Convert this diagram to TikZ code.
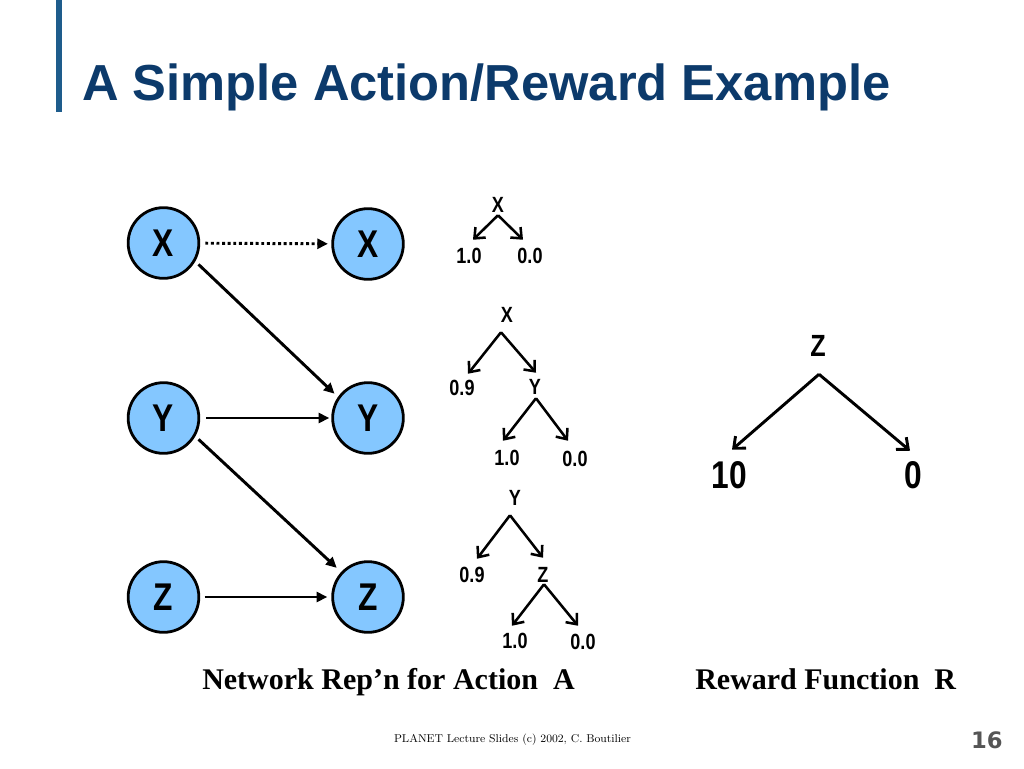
\documentclass[tikz,border=0pt]{standalone}
\usepackage{fontspec}
\usetikzlibrary{arrows.meta,calc}
\newfontfamily\sansf{Liberation Sans}
\newfontfamily\narrowf{Liberation Sans}[FakeStretch=0.82]
\newfontfamily\timesf{Liberation Serif}
\newfontfamily\dejaf{DejaVu Sans}
\definecolor{titleblue}{RGB}{12,58,107}
\definecolor{barblue}{RGB}{30,92,140}
\definecolor{nodeblue}{RGB}{132,199,255}
\definecolor{pagegray}{RGB}{85,85,85}
\tikzset{
  varnode/.style={circle,draw=black,line width=2.1pt,fill=nodeblue,minimum size=53pt,inner sep=0pt,
    font=\narrowf\bfseries\fontsize{29}{29}\selectfont},
  netarrow/.style={line width=2.2pt,-{Triangle[length=8pt,width=7.5pt]}},
  dotarrow/.style={netarrow,dash pattern=on 2.2pt off 2pt},
  small/.style={anchor=base,inner sep=0pt,text height=11.25pt,text depth=0pt,
    font=\narrowf\bfseries\fontsize{16.5}{16.5}\selectfont},
  rwz/.style={anchor=base,inner sep=0pt,text height=15pt,text depth=0pt,
    font=\narrowf\bfseries\fontsize{23}{23}\selectfont},
  rwv/.style={anchor=base,inner sep=0pt,text height=20.25pt,text depth=0pt,
    font=\narrowf\bfseries\fontsize{29}{29}\selectfont},
  treearrow/.style={line width=1.9pt,-{Straight Barb[length=6.5pt,width=11pt]}},
  rewardarrow/.style={line width=2.2pt,-{Straight Barb[length=7pt,width=12pt]}},
  caption/.style={anchor=base west,inner sep=0pt,font=\timesf\bfseries\fontsize{22.5}{22.5}\selectfont},
}
\begin{document}
\begin{tikzpicture}[x=0.75pt,y=-0.75pt]
\useasboundingbox (0,0) rectangle (1024,768);
\fill[white] (0,0) rectangle (1024,768);
% title
\fill[barblue] (56,0) rectangle (62,112);
\node[anchor=base west,inner sep=0pt,text=titleblue,font=\sansf\bfseries\fontsize{38}{38}\selectfont] (title) at (82,100) {A Simple Action/Reward Example};
% network nodes
\node[varnode] (lx) at (163.5,243) {X};
\node[varnode] (rx) at (368,244) {X};
\node[varnode] (ly) at (163.5,418) {Y};
\node[varnode] (ry) at (368,418) {Y};
\node[varnode] (lz) at (163.5,597) {Z};
\node[varnode] (rz) at (368,597) {Z};
\draw[dotarrow,shorten <=3.8pt,shorten >=2.5pt] (lx) -- (rx);
\draw[netarrow,shorten <=3.3pt,shorten >=3.5pt] (lx.-30) -- (ry.145);
\draw[netarrow,shorten <=4.5pt,shorten >=1.5pt] (ly) -- (ry);
\draw[netarrow,shorten <=3.3pt,shorten >=4.5pt] (ly.-30) -- (rz.137);
\draw[netarrow,shorten <=3.3pt,shorten >=3pt] (lz) -- (rz);
% tree 1
\node[small] (t1x) at (498,212) {X};
\node[small] (t1a) at (469,263) {1.0};
\node[small] (t1b) at (530,263) {0.0};
\draw[treearrow] ($(t1x.south)+(0,3)$) -- ($(t1a.north)+(4,-8)$);
\draw[treearrow] ($(t1x.south)+(0,3)$) -- ($(t1b.north)+(-7,-8)$);
% tree 2
\node[small] (t2x) at (507,322) {X};
\node[small] (t2a) at (462,395) {0.9};
\node[small] (t2y) at (535,394) {Y};
\node[small] (t2b) at (507,465) {1.0};
\node[small] (t2c) at (575,466) {0.0};
\draw[treearrow] ($(t2x.south)+(-6,10)$) -- ($(t2a.north)+(6,-6)$);
\draw[treearrow] ($(t2x.south)+(-6,10)$) -- ($(t2y.north)+(1,-6)$);
\draw[treearrow] ($(t2y.south)+(1,4)$) -- ($(t2b.north)+(-4,-9)$);
\draw[treearrow] ($(t2y.south)+(1,4)$) -- ($(t2c.north)+(-7,-10)$);
% tree 3
\node[small] (t3y) at (515,505) {Y};
\node[small] (t3a) at (472,582) {0.9};
\node[small] (t3z) at (543,582) {Z};
\node[small] (t3b) at (515,648) {1.0};
\node[small] (t3c) at (583,649) {0.0};
\draw[treearrow] ($(t3y.south)+(-5,10)$) -- ($(t3a.north)+(5,-8)$);
\draw[treearrow] ($(t3y.south)+(-5,10)$) -- ($(t3z.north)+(0,-9)$);
\draw[treearrow] ($(t3z.south)+(1,2)$) -- ($(t3b.north)+(-3,-7)$);
\draw[treearrow] ($(t3z.south)+(1,2)$) -- ($(t3c.north)+(-5,-8)$);
% reward tree
\node[rwz] (rz0) at (818,356) {Z};
\node[rwv] (r10) at (729,488) {10};
\node[rwv] (r0) at (913,488) {0};
\draw[rewardarrow] ($(rz0.south)+(1,18)$) -- ($(r10.north)+(3,-11)$);
\draw[rewardarrow] ($(rz0.south)+(1,18)$) -- ($(r0.north)+(-3,-10)$);
% captions
\node[caption] (cap1) at (202,689) {Network Rep’n for Action~~A};
\node[caption] (cap2) at (695,689) {Reward Function~~R};
% footer
\node[anchor=base,inner sep=0pt,font=\fontsize{8.5}{8.5}\selectfont] (foot) at (512.5,742) {PLANET Lecture Slides (c) 2002, C. Boutilier};
\node[anchor=base east,inner sep=0pt,text=pagegray,font=\dejaf\bfseries\fontsize{17}{17}\selectfont] (page) at (1003,748) {16};
\end{tikzpicture}
\end{document}
